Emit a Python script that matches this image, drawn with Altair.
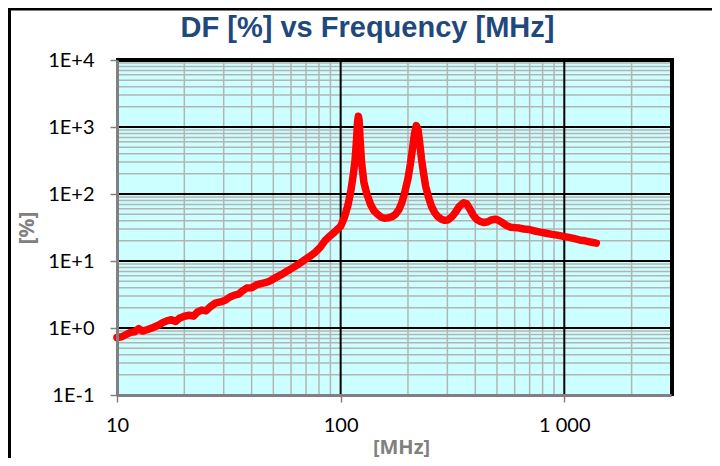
import altair as alt
import pandas as pd

# ---- data ----
freq_mhz = [10, 10.5, 11, 11.5, 12, 12.5, 13, 13.7, 14.5, 15.3, 16, 16.7, 17.5, 18.3, 19, 20, 21, 22, 23, 24,
            25, 26, 27.5, 29, 30.5, 32, 33.5, 35, 36.5, 38, 40, 42, 44, 46, 48, 51, 54, 57, 61, 65,
            69, 73, 77, 81, 85, 90, 95, 100, 104, 108, 111, 114, 116, 118, 119, 120, 121, 122, 124, 127,
            131, 136, 141, 146, 152, 157, 163, 170, 176, 182, 188, 194, 200, 205, 210, 214, 218, 222, 226, 230,
            235, 240, 247, 255, 263, 272, 282, 292, 302, 315, 328, 340, 355, 365, 378, 392, 405, 420, 438, 455,
            472, 490, 505, 525, 550, 575, 600, 630, 660, 700, 740, 780, 830, 880, 930, 990, 1050, 1110, 1170, 1240,
            1310, 1390]
df_pct = [0.72, 0.74, 0.8, 0.86, 0.88, 0.98, 0.9, 0.95, 1.02, 1.1, 1.2, 1.28, 1.33, 1.25, 1.4, 1.5, 1.55, 1.5, 1.75, 1.85,
          1.8, 2.05, 2.35, 2.45, 2.6, 2.9, 3.1, 3.2, 3.6, 3.95, 4.0, 4.4, 4.6, 4.75, 5.0, 5.6, 6.2, 6.9, 7.9, 9.0,
          10.4, 11.8, 13.5, 16, 20, 24, 28, 33, 45, 70, 110, 200, 320, 700, 1200, 1450, 1250, 700, 300, 150,
          100, 70, 56, 50, 45, 43.5, 44, 46, 50, 58, 75, 110, 170, 280, 500, 800, 1050, 900, 550, 330,
          200, 130, 90, 65, 53, 46, 42, 40.5, 41, 46, 55, 66, 74, 72, 60, 48, 42, 39, 37.5, 38.5,
          41, 42, 41, 38, 34, 32, 31.5, 31, 30, 29.5, 28, 27, 26, 25, 24.3, 23.3, 22.5, 21.5, 20.6, 20,
          19.2, 18.5]

title_text = "DF [%] vs Frequency [MHz]"
x_title = "[MHz]"
y_title = "[%]"
x_major = [10, 100, 1000]
x_labels = ["10", "100", "1 000"]
x_minor = [20, 30, 40, 50, 60, 70, 80, 90, 200, 300, 400, 500, 600, 700, 800, 900, 2000, 3000]
y_major = [0.1, 1, 10, 100, 1000, 10000]
y_labels = ["1E-1", "1E+0", "1E+1", "1E+2", "1E+3", "1E+4"]
y_minor = [m * d for d in [0.1, 1, 10, 100, 1000] for m in [2, 3, 4, 5, 6, 7, 8, 9]]

W, H = 554, 335
LABEL_FONT = "Lato"
TITLE_FONT = "Noto Sans"
GRAY = "#808080"

curve = pd.DataFrame({"f": freq_mhz, "df": df_pct})
xs = alt.Scale(type="log", domain=[10, 3000], nice=False)
ys = alt.Scale(type="log", domain=[0.1, 10000], nice=False)

x_expr = " : ".join([f"datum.value == {v} ? '{l}'" for v, l in zip(x_major, x_labels)]) + " : ''"
y_expr = " : ".join([f"abs(datum.value - {v}) < {v}*0.01 ? '{l}'" for v, l in zip(y_major, y_labels)]) + " : ''"

x_axis = alt.Axis(values=x_major, labelExpr=x_expr, grid=False, tickColor=GRAY, tickSize=7, tickWidth=1.5,
                  domainColor=GRAY, domainWidth=3, labelFont=LABEL_FONT, labelFontSize=20, labelColor="#000000",
                  labelPadding=13, title=x_title, titleFont=TITLE_FONT, titleFontSize=20, titleFontWeight="bold",
                  titleColor=GRAY, titleX=284, titleY=52, titleBaseline="middle", titleAlign="center", zindex=1,
                  labelFlush=False)
y_axis = alt.Axis(values=y_major, labelExpr=y_expr, grid=False, tickColor=GRAY, tickSize=7, tickWidth=1.5,
                  domainColor=GRAY, domainWidth=3, labelFont=LABEL_FONT, labelFontSize=20, labelColor="#000000",
                  labelPadding=16, title=y_title, titleFont=TITLE_FONT, titleFontSize=21, titleFontWeight="bold",
                  titleColor=GRAY, titleX=-90, titleY=H / 2, titleBaseline="middle", titleAlign="center",
                  titleAngle=-90, zindex=1, labelFlush=False)

X = lambda f: alt.X(f, scale=xs, axis=x_axis)
Y = lambda f: alt.Y(f, scale=ys, axis=y_axis)

minor_x = alt.Chart(pd.DataFrame({"v": x_minor})).mark_rule(color="#B4B4B4", strokeWidth=1.5).encode(x=X("v:Q"))
minor_y = alt.Chart(pd.DataFrame({"v": y_minor})).mark_rule(color="#B4B4B4", strokeWidth=1.5).encode(y=Y("v:Q"))
major_x = alt.Chart(pd.DataFrame({"v": x_major})).mark_rule(color="#000000", strokeWidth=2).encode(x=X("v:Q"))
major_y = alt.Chart(pd.DataFrame({"v": y_major})).mark_rule(color="#000000", strokeWidth=2).encode(y=Y("v:Q"))

line = alt.Chart(curve).mark_line(color="#FF0000", strokeWidth=7.5, strokeCap="round", strokeJoin="round").encode(
    x=X("f:Q"), y=Y("df:Q"), order="f:Q")

top_border = alt.Chart().mark_rule(color="#000000", strokeWidth=4).encode(
    x=alt.value(-1), x2=alt.value(W + 3), y=alt.value(0))
right_border = alt.Chart().mark_rule(color="#000000", strokeWidth=4).encode(
    x=alt.value(W + 1), y=alt.value(-2), y2=alt.value(H + 1))
frame_top = alt.Chart().mark_rule(color="#000000", strokeWidth=3).encode(
    x=alt.value(-109), x2=alt.value(W + 41), y=alt.value(-51))
frame_left = alt.Chart().mark_rule(color="#000000", strokeWidth=3).encode(
    x=alt.value(-107.5), y=alt.value(-52), y2=alt.value(H + 63))

title = alt.Chart(pd.DataFrame({"t": [title_text]})).mark_text(
    font="Liberation Sans", fontSize=29, fontWeight="bold", color="#1F497D", align="center", baseline="middle"
).encode(text="t:N", x=alt.value(250.5), y=alt.value(-32))

chart = alt.layer(minor_x, minor_y, major_x, major_y, line, top_border, right_border, frame_top, frame_left,
                  title).properties(
    width=W, height=H,
    autosize=alt.AutoSizeParams(type="none"),
    padding={"left": 109, "top": 52, "right": 41, "bottom": 63},
).configure_view(fill="#CCFFFF", stroke=None)

chart.save("out.html", embed_options={"renderer": "svg", "actions": False})
